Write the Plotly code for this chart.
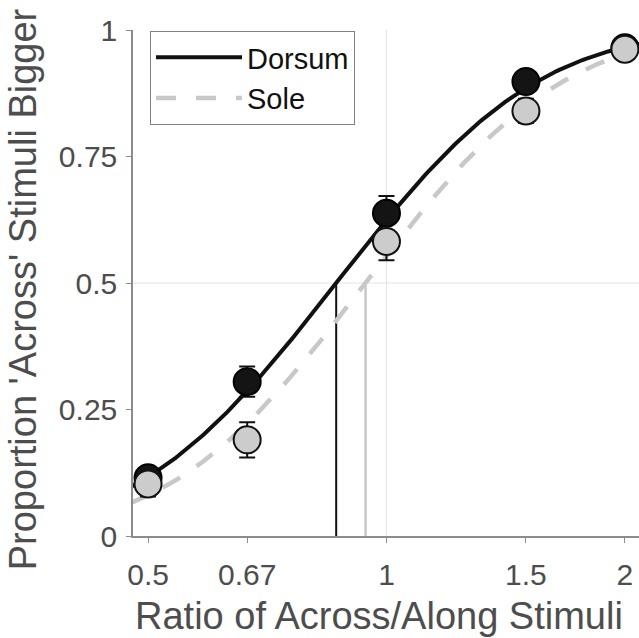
import math
import plotly.graph_objects as go

# ---- data ----
ratios = [0.5, 0.667, 1.0, 1.5, 2.0]
dorsum_prop = [0.115, 0.305, 0.638, 0.898, 0.965]
dorsum_err = [0.015, 0.03, 0.034, 0.02, 0.01]
sole_prop = [0.103, 0.190, 0.582, 0.840, 0.962]
sole_err = [0.025, 0.035, 0.037, 0.024, 0.01]

# fitted cumulative-Gaussian parameters (in log2 units of ratio)
pse_dorsum = 0.864
pse_sole = 0.941
sigma_dorsum = 0.662
sigma_sole = 0.65

x_tick_vals = [0.5, 0.667, 1, 1.5, 2]
x_tick_text = ["0.5", "0.67", "1", "1.5", "2"]
y_tick_vals = [0, 0.25, 0.5, 0.75, 1]
y_tick_text = ["0", "0.25", "0.5", "0.75", "1"]


def fit_curve(pse, sigma, n=200, lo=0.47, hi=2.1):
    xs, ys = [], []
    for i in range(n + 1):
        lx = math.log2(lo) + (math.log2(hi) - math.log2(lo)) * i / n
        z = (lx - math.log2(pse)) / sigma
        xs.append(2 ** lx)
        ys.append(0.5 * (1 + math.erf(z / math.sqrt(2))))
    return xs, ys


FONT = "Liberation Sans, Arial, sans-serif"
TXT = "#4d4d4d"
AX = "#8c8c8c"
GRAY = "#c8c8c8"

fig = go.Figure()

xd, yd = fit_curve(pse_dorsum, sigma_dorsum)
xs, ys = fit_curve(pse_sole, sigma_sole)

fig.add_trace(go.Scatter(x=xd, y=yd, mode="lines", name="Dorsum",
                         line=dict(color="#111111", width=4)))
fig.add_trace(go.Scatter(x=xs, y=ys, mode="lines", name="Sole",
                         line=dict(color=GRAY, width=4.5, dash="20px,20px")))

fig.add_trace(go.Scatter(
    x=ratios, y=dorsum_prop, mode="markers", showlegend=False, cliponaxis=False,
    marker=dict(size=27, color="#141414", line=dict(color="#000000", width=2)),
    error_y=dict(type="data", array=dorsum_err, color="#111111", thickness=2, width=8)))
fig.add_trace(go.Scatter(
    x=ratios, y=sole_prop, mode="markers", showlegend=False, cliponaxis=False,
    marker=dict(size=27, color="#cccccc", line=dict(color="#111111", width=2)),
    error_y=dict(type="data", array=sole_err, color="#111111", thickness=2, width=8)))

shapes = [
    dict(type="line", xref="x", yref="paper", x0=1, x1=1, y0=0, y1=1,
         line=dict(color="#e3e3e3", width=1), layer="below"),
    dict(type="line", xref="paper", yref="y", x0=0, x1=1, y0=0.5, y1=0.5,
         line=dict(color="#e3e3e3", width=1), layer="below"),
    dict(type="line", xref="x", yref="y", x0=pse_sole, x1=pse_sole, y0=0, y1=0.5,
         line=dict(color=GRAY, width=2.5), layer="below"),
    dict(type="line", xref="x", yref="y", x0=pse_dorsum, x1=pse_dorsum, y0=0, y1=0.5,
         line=dict(color="#111111", width=2), layer="below"),
]

fig.update_layout(
    width=639, height=638,
    margin=dict(l=133, r=0, t=30, b=102),
    paper_bgcolor="white", plot_bgcolor="white",
    font=dict(family=FONT, color=TXT, size=28),
    shapes=shapes,
    showlegend=True,
    legend=dict(x=0.0336, y=0.998, xanchor="left", yanchor="top",
                bgcolor="white", bordercolor="#808080", borderwidth=1,
                font=dict(family=FONT, size=29, color="#111111"),
                itemwidth=86, tracegroupgap=0),
    xaxis=dict(type="log", range=[math.log10(0.4786), math.log10(2.0837)],
               tickvals=x_tick_vals, ticktext=x_tick_text,
               ticks="outside", ticklen=5, tickcolor=AX, tickwidth=1,
               showline=True, linecolor=AX, linewidth=1.5,
               showgrid=False, zeroline=False, ticklabelstandoff=6,
               tickfont=dict(size=30, color=TXT)),
    yaxis=dict(range=[0, 1], tickvals=y_tick_vals, ticktext=y_tick_text,
               ticks="outside", ticklen=5, tickcolor=AX, tickwidth=1,
               showline=True, linecolor=AX, linewidth=1.5,
               showgrid=False, zeroline=False, ticklabelstandoff=3,
               tickfont=dict(size=30, color=TXT)),
    annotations=[
        dict(text="Ratio of Across/Along Stimuli", xref="paper", yref="paper",
             x=0.487, y=-0.112, xanchor="center", yanchor="top", showarrow=False,
             font=dict(size=38, color=TXT, family=FONT)),
        dict(text="Proportion 'Across' Stimuli Bigger", xref="paper", yref="paper",
             x=-0.217, y=0.488, xanchor="center", yanchor="middle", showarrow=False,
             textangle=-90, font=dict(size=38, color=TXT, family=FONT)),
    ],
)

fig.write_html("out.html", config={"displayModeBar": False},
               post_script="document.body.style.margin='0';document.body.style.padding='0';")
